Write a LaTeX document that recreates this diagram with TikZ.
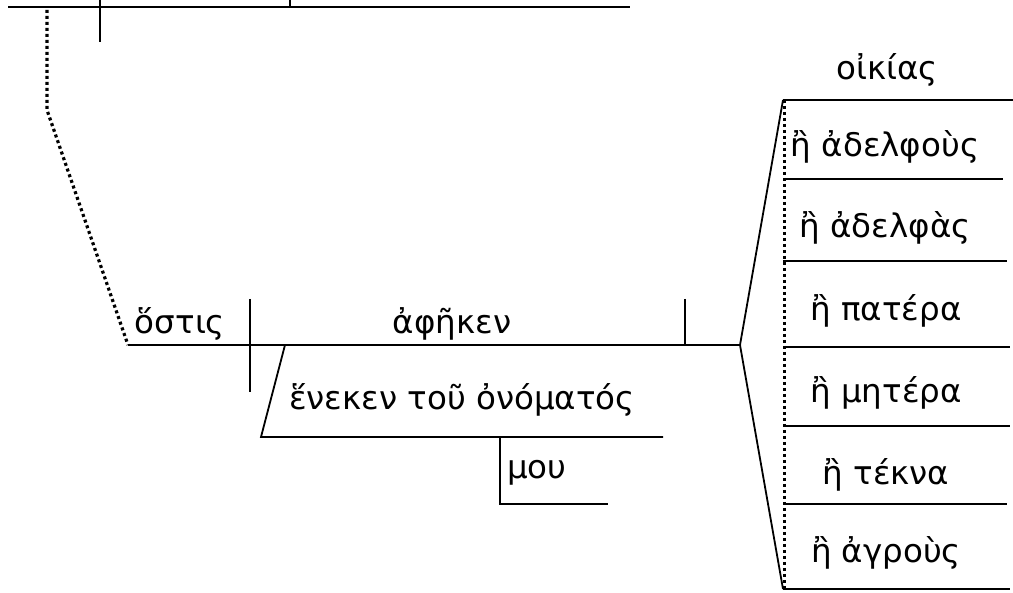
\documentclass[tikz,border=0pt]{standalone}
\usepackage{fontspec}
\setmainfont{DejaVu Sans}
\begin{document}
\begin{tikzpicture}[x=1pt,y=-1pt,font=\fontsize{32.5}{38}\selectfont,
    rule/.style={line width=1.8pt},
    link/.style={line width=3.2pt,dash pattern=on 3pt off 3pt},
    word/.style={anchor=base,inner sep=0pt}]
        \useasboundingbox (0,0) rectangle (1013,593);
        \def\clauseY{345}
        \def\forkX{740}
        \def\listX{783}

        % Main clause, cut off at the top edge.
        \coordinate (mainL) at (8,7);
        \coordinate (mainR) at (630,7);
        \draw[rule] (mainL) -- (mainR);
        \draw[rule] (100,0) -- (100,42);
        \draw[rule] (290,0) -- (290,7);

        % Relative clause line.
        \coordinate (relL) at (128,\clauseY);
        \coordinate (fork) at (\forkX,\clauseY);
        \draw[rule] (relL) -- (fork);
        \draw[rule] (250,299) -- (250,392);
        \draw[rule] (685,299) -- (685,\clauseY);
        \draw[link] (47,10) -- (47,110) -- (relL);

        \node[word] (subj) at (180,334) {ὅστις};
        \node[word] (verb) at (452,334) {ἀφῆκεν};

        % Prepositional phrase and its modifier.
        \coordinate (prepTop) at (285,\clauseY);
        \coordinate (prepL) at (261,437);
        \coordinate (prepR) at (663,437);
        \draw[rule] (prepTop) -- (prepL) -- (prepR);
        \node[word] (prep) at (462,410) {ἕνεκεν τοῦ ὀνόματός};
        \draw[rule] (500,437) -- (500,504) -- (608,504);
        \node[word] (gen) at (537,479) {μου};

        % Compound object.
        \coordinate (listTop) at (\listX,100);
        \coordinate (listBot) at (\listX,589);
        \draw[rule] (fork) -- (listTop);
        \draw[rule] (fork) -- (listBot);
        \draw[link] ([xshift=1.5pt]listTop) -- ([xshift=1.5pt]listBot);
        \foreach \y/\e in {100/1013,179/1003,261/1007,347/1010,
            426/1010,504/1007,589/1010}
            \draw[rule] (\listX,\y) -- (\e,\y);

        \node[word] (obj1) at (887,80) {οἰκίας};
        \node[word] (obj2) at (885,157) {ἢ ἀδελφοὺς};
        \node[word] (obj3) at (885,238) {ἢ ἀδελφὰς};
        \node[word] (obj4) at (886,321) {ἢ πατέρα};
        \node[word] (obj5) at (886,403) {ἢ μητέρα};
        \node[word] (obj6) at (886,485) {ἢ τέκνα};
        \node[word] (obj7) at (886,563) {ἢ ἀγροὺς};
    \end{tikzpicture}
\end{document}
